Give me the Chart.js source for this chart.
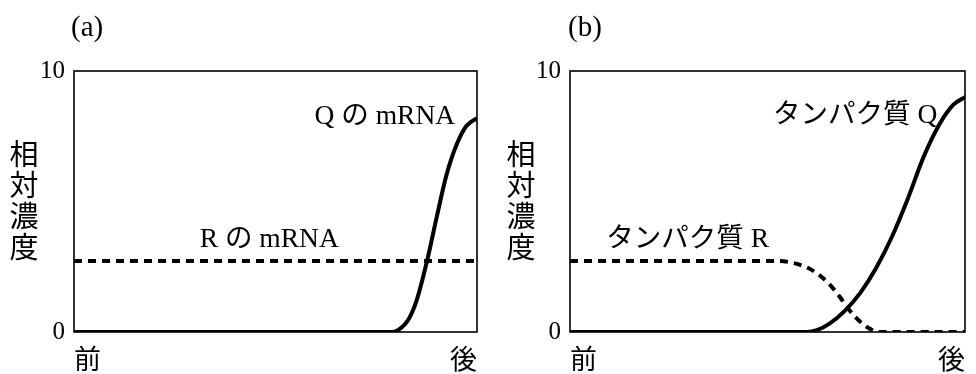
<!DOCTYPE html>
<html><head><meta charset="utf-8">
<script src="https://cdn.jsdelivr.net/npm/chart.js@4/dist/chart.umd.min.js"></script>
<style>
html,body{margin:0;padding:0;background:#fff;}
#wrap{position:relative;width:976px;height:374px;overflow:hidden;}
canvas{position:absolute;top:0;}
</style></head>
<body><div id="wrap">
<canvas id="ca" width="488" height="374" style="left:0"></canvas>
<canvas id="cb" width="488" height="374" style="left:488px"></canvas>
</div>
<script>
// ---- data ----
const PANEL_LABELS = ['(a)', '(b)'];
const Y_TITLE = '相対濃度';
const Y_TICKS = [0, 10];
const X_TICKS = [0, 100];
const X_LABELS = ['前', '後'];

// panel (a): mRNA
const qMrnaX = [0, 79, 80.5, 83, 85, 87.6, 90, 92.4, 95, 97.4, 100];
const qMrnaY = [0, 0, 0.08, 0.48, 1.2, 2.72, 4.4, 6.0, 7.2, 7.9, 8.2];
const rMrnaX = [0, 100];
const rMrnaY = [2.72, 2.72];

// panel (b): protein
const qProtX = [0, 60, 62.5, 65.5, 69.5, 73.5, 77.5, 81.5, 85.5, 89.5, 93.5, 97, 100];
const qProtY = [0, 0, 0.07, 0.3, 0.8, 1.5, 2.45, 3.65, 5.1, 6.7, 7.95, 8.7, 9.0];
const rProtX = [0, 53, 56.3, 60.3, 63.8, 67, 69, 71.2, 73.7, 76.2, 78, 100];
const rProtY = [2.72, 2.72, 2.65, 2.45, 2.1, 1.6, 1.2, 0.75, 0.36, 0.1, 0, 0];

const SERIES_NAMES_A = ['Q の mRNA', 'R の mRNA'];
const SERIES_NAMES_B = ['タンパク質 Q', 'タンパク質 R'];

// ---- helpers ----
const pts = (xs, ys) => xs.map((x, i) => ({x, y: ys[i]}));
const SERIF = '"Liberation Serif", "Noto Sans CJK JP", serif';
const CJK = '"Noto Sans CJK JP", sans-serif';

const textPlugin = {
  id: 'panelText',
  afterDraw(chart, args, opts) {
    const ctx = chart.ctx, a = chart.chartArea;
    const xs = chart.scales.x, ys = chart.scales.y;
    ctx.save();
    // frame
    ctx.strokeStyle = '#000';
    ctx.lineWidth = 1.6;
    ctx.strokeRect(a.left, a.top, a.right - a.left, a.bottom - a.top);
    ctx.fillStyle = '#000';
    // panel label
    ctx.font = '29px ' + SERIF;
    ctx.textAlign = 'left';
    ctx.textBaseline = 'middle';
    ctx.fillText(opts.panel, opts.panelX, 28);
    // vertical y-axis title
    ctx.font = '29px ' + CJK;
    ctx.textAlign = 'center';
    [...Y_TITLE].forEach((ch, i) => ctx.fillText(ch, opts.titleX, 154 + i * 31));
    // series notes
    ctx.textAlign = 'left';
    opts.notes.forEach(n => {
      ctx.font = '27.5px ' + SERIF;
      ctx.fillText(n.text, xs.getPixelForValue(n.x), ys.getPixelForValue(n.y));
    });
    ctx.restore();
  }
};

function makeChart(id, padRight, yWidth, datasets, pluginOpts) {
  return new Chart(document.getElementById(id), {
    type: 'line',
    data: {datasets},
    options: {
      responsive: false, animation: false, devicePixelRatio: 1,
      layout: {padding: {left: 0, right: padRight, top: 71, bottom: 0}},
      elements: {point: {radius: 0}},
      plugins: {legend: {display: false}, tooltip: {enabled: false}, panelText: pluginOpts},
      scales: {
        x: {
          type: 'linear', min: 0, max: 100,
          grid: {display: false, drawTicks: false}, border: {display: false},
          afterBuildTicks: s => { s.ticks = X_TICKS.map(v => ({value: v})); },
          afterFit: s => { s.height = 42; },
          ticks: {
            align: 'inner', padding: 11, color: '#000', maxRotation: 0,
            font: {family: CJK, size: 27},
            callback: v => X_LABELS[X_TICKS.indexOf(v)]
          }
        },
        y: {
          type: 'linear', min: 0, max: 10,
          grid: {display: false, drawTicks: false}, border: {display: false},
          afterBuildTicks: s => { s.ticks = Y_TICKS.map(v => ({value: v})); },
          afterFit: s => { s.width = yWidth; },
          ticks: {padding: 9, color: '#000', font: {family: SERIF, size: 25}}
        }
      }
    },
    plugins: [textPlugin]
  });
}

makeChart('ca', 10, 74, [
  {label: SERIES_NAMES_A[0], data: pts(qMrnaX, qMrnaY), borderColor: '#000', borderWidth: 4,
   cubicInterpolationMode: 'monotone', fill: false},
  {label: SERIES_NAMES_A[1], data: pts(rMrnaX, rMrnaY), borderColor: '#000', borderWidth: 4,
   borderDash: [8, 6], fill: false}
], {panel: PANEL_LABELS[0], panelX: 71, titleX: 24,
    notes: [{text: SERIES_NAMES_A[0], x: 59.7, y: 8.24}, {text: SERIES_NAMES_A[1], x: 31.2, y: 3.54}]});

makeChart('cb', 3, 82, [
  {label: SERIES_NAMES_B[0], data: pts(qProtX, qProtY), borderColor: '#000', borderWidth: 4,
   cubicInterpolationMode: 'monotone', fill: false},
  {label: SERIES_NAMES_B[1], data: pts(rProtX, rProtY), borderColor: '#000', borderWidth: 4,
   borderDash: [8, 6], cubicInterpolationMode: 'monotone', fill: false}
], {panel: PANEL_LABELS[1], panelX: 80, titleX: 33,
    notes: [{text: SERIES_NAMES_B[0], x: 51.4, y: 8.3}, {text: SERIES_NAMES_B[1], x: 9.2, y: 3.54}]});
</script>
</body></html>
